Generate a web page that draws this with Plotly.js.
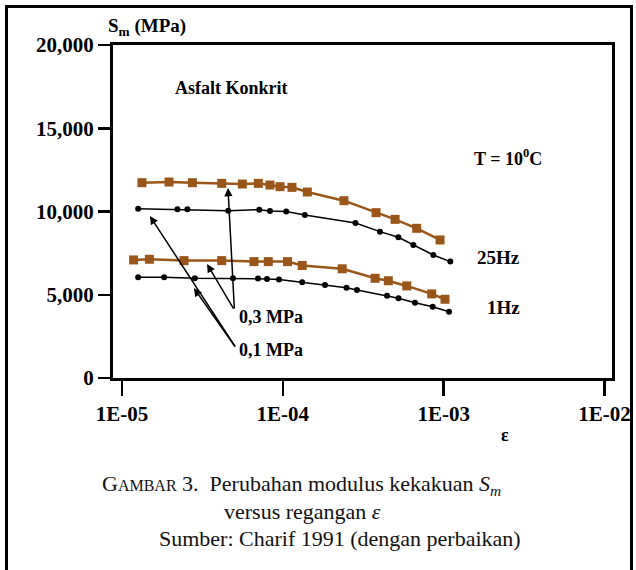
<!DOCTYPE html>
<html>
<head>
<meta charset="utf-8">
<script src="https://cdn.plot.ly/plotly-3.0.1.min.js"></script>
<style>
  html, body { margin: 0; padding: 0; background: #fff; }
  #wrap { position: relative; width: 636px; height: 570px; overflow: hidden; }
  #chart { position: absolute; left: 0; top: 0; width: 636px; height: 570px; }
  #frame { position: absolute; left: 5px; top: 5px; width: 622px; height: 580px;
           border-left: 3px solid #000; border-top: 3px solid #000; border-right: 3px solid #000;
           pointer-events: none; }
</style>
</head>
<body>
<div id="wrap"><div id="chart"></div><div id="frame"></div></div>
<script>
// ---- data ----
const eps25_03 = [1.33e-5, 1.96e-5, 2.74e-5, 4.17e-5, 5.60e-5, 7.04e-5, 8.32e-5, 9.61e-5, 1.14e-4, 1.42e-4, 2.40e-4, 3.80e-4, 4.99e-4, 6.80e-4, 9.50e-4];
const sm25_03  = [11730, 11770, 11730, 11690, 11650, 11690, 11590, 11490, 11450, 11170, 10650, 9930, 9530, 8990, 8290];
const eps25_01 = [1.26e-5, 2.21e-5, 2.55e-5, 4.58e-5, 7.14e-5, 8.32e-5, 1.05e-4, 1.37e-4, 2.83e-4, 4.02e-4, 5.23e-4, 6.48e-4, 8.63e-4, 1.10e-3];
const sm25_01  = [10170, 10130, 10130, 10050, 10110, 10030, 10000, 9790, 9310, 8790, 8450, 7990, 7390, 6990];
const eps1_03  = [1.18e-5, 1.48e-5, 2.43e-5, 4.17e-5, 6.62e-5, 8.12e-5, 1.07e-4, 1.32e-4, 2.34e-4, 3.75e-4, 4.53e-4, 5.90e-4, 8.43e-4, 1.02e-3];
const sm1_03   = [7090, 7130, 7050, 7050, 6990, 6990, 6990, 6760, 6560, 5990, 5840, 5530, 5050, 4730];
const eps1_01  = [1.26e-5, 1.83e-5, 2.84e-5, 4.90e-5, 7.01e-5, 7.97e-5, 9.47e-5, 1.32e-4, 1.83e-4, 2.49e-4, 2.89e-4, 4.45e-4, 5.24e-4, 6.64e-4, 8.55e-4, 1.08e-3];
const sm1_01   = [6050, 6050, 5990, 5990, 5970, 5950, 5920, 5750, 5590, 5420, 5290, 4940, 4790, 4520, 4280, 3980];

const xTickVals = [1e-5, 1e-4, 1e-3, 1e-2];
const xTickText = ['1E-05', '1E-04', '1E-03', '1E-02'];
const yTickVals = [0, 5000, 10000, 15000, 20000];
const yTickText = ['0', '5,000', '10,000', '15,000', '20,000'];

const yTitle = 'S<sub>m</sub> (MPa)';
const xTitle = 'ε';
const materialLabel = 'Asfalt Konkrit';
const tempLabel = 'T = 10<sup>0</sup>C';
const freqLabels = ['25Hz', '1Hz'];
const stressLabels = ['0,3 MPa', '0,1 MPa'];
const captionLines = [
  'G<span style="font-size:16px">AMBAR</span> 3.  Perubahan modulus kekakuan <i>S</i><sub><i>m</i></sub>',
  'versus regangan <i>ε</i>',
  'Sumber: Charif 1991 (dengan perbaikan)'
];

// ---- styles ----
const BROWN = '#9a5518';
const SERIF = 'Liberation Serif, Times New Roman, serif';
const L = Math.log10;

const brownLine = { color: BROWN, width: 2.5 };
const brownMarker = { symbol: 'square', size: 9, color: BROWN };
const blackLine = { color: '#000', width: 1.5 };
const blackMarker = { symbol: 'circle', size: 6, color: '#000' };

const traces = [
  { x: eps25_03, y: sm25_03, mode: 'lines+markers', line: brownLine, marker: brownMarker, name: '25Hz 0,3 MPa' },
  { x: eps25_01, y: sm25_01, mode: 'lines+markers', line: blackLine, marker: blackMarker, name: '25Hz 0,1 MPa' },
  { x: eps1_03, y: sm1_03, mode: 'lines+markers', line: brownLine, marker: brownMarker, name: '1Hz 0,3 MPa' },
  { x: eps1_01, y: sm1_01, mode: 'lines+markers', line: blackLine, marker: blackMarker, name: '1Hz 0,1 MPa' }
];

const boldFont = (s) => ({ family: SERIF, size: s, color: '#000', weight: 700 });
const capFont = { family: SERIF, size: 22, color: '#111' };

// arrow tails near the stress labels, heads on the curves (data coordinates)
const tail03 = { x: 5.0e-5, y: 4080 };
const tail01 = { x: 5.12e-5, y: 1800 };

function arrow(headX, headY, tail) {
  return { x: L(headX), y: headY, ax: L(tail.x), ay: tail.y, axref: 'x', ayref: 'y',
           xref: 'x', yref: 'y', text: '', showarrow: true, arrowhead: 2, arrowsize: 1.1,
           arrowwidth: 1.5, arrowcolor: '#000', standoff: 0 };
}

const annotations = [
  { x: -0.014, y: 1.054, xref: 'paper', yref: 'paper', xanchor: 'left', yanchor: 'middle', text: yTitle, showarrow: false, font: boldFont(19) },
  { x: L(2.075e-5), y: 17420, xref: 'x', yref: 'y', xanchor: 'left', yanchor: 'middle', text: materialLabel, showarrow: false, font: boldFont(18) },
  { x: L(1.502e-3), y: 13270, xref: 'x', yref: 'y', xanchor: 'left', yanchor: 'middle', text: tempLabel, showarrow: false, font: boldFont(18) },
  { x: L(1.568e-3), y: 7210, xref: 'x', yref: 'y', xanchor: 'left', yanchor: 'middle', text: freqLabels[0], showarrow: false, font: boldFont(19) },
  { x: L(1.809e-3), y: 4260, xref: 'x', yref: 'y', xanchor: 'left', yanchor: 'middle', text: freqLabels[1], showarrow: false, font: boldFont(19) },
  { x: L(5.19e-5), y: 3660, xref: 'x', yref: 'y', xanchor: 'left', yanchor: 'middle', text: stressLabels[0], showarrow: false, font: boldFont(18) },
  { x: L(5.19e-5), y: 1680, xref: 'x', yref: 'y', xanchor: 'left', yanchor: 'middle', text: stressLabels[1], showarrow: false, font: boldFont(18) },
  { x: 0.7856, y: -0.171, xref: 'paper', yref: 'paper', xanchor: 'center', yanchor: 'middle', text: xTitle, showarrow: false, font: boldFont(18) },
  arrow(4.56e-5, 11410, tail03),
  arrow(3.38e-5, 6850, tail03),
  arrow(1.49e-5, 9730, tail01),
  arrow(2.80e-5, 5400, tail01),
  { x: -0.026, y: -0.321, xref: 'paper', yref: 'paper', xanchor: 'left', yanchor: 'middle', text: captionLines[0], showarrow: false, font: capFont },
  { x: 0.218, y: -0.402, xref: 'paper', yref: 'paper', xanchor: 'left', yanchor: 'middle', text: captionLines[1], showarrow: false, font: capFont },
  { x: 0.088, y: -0.481, xref: 'paper', yref: 'paper', xanchor: 'left', yanchor: 'middle', text: captionLines[2], showarrow: false, font: capFont }
];

const layout = {
  width: 636, height: 570,
  margin: { l: 113, r: 24, t: 45, b: 192, pad: 0 },
  paper_bgcolor: '#fff', plot_bgcolor: '#fff',
  showlegend: false,
  hovermode: false,
  xaxis: {
    type: 'log', range: [-5.056, -1.953],
    tickvals: xTickVals, ticktext: xTickText,
    ticks: 'outside', ticklen: 15, tickwidth: 2.5, tickcolor: '#000',
    showline: true, linewidth: 3, linecolor: '#000', mirror: true,
    showgrid: false, zeroline: false,
    tickfont: boldFont(21)
  },
  yaxis: {
    range: [0, 20000],
    tickvals: yTickVals, ticktext: yTickText,
    ticks: 'outside', ticklen: 12, tickwidth: 2.5, tickcolor: '#000',
    showline: true, linewidth: 3, linecolor: '#000', mirror: true,
    showgrid: false, zeroline: false,
    tickfont: boldFont(21)
  },
  annotations: annotations
};

Plotly.newPlot('chart', traces, layout, { staticPlot: true, displayModeBar: false });
</script>
</body>
</html>
